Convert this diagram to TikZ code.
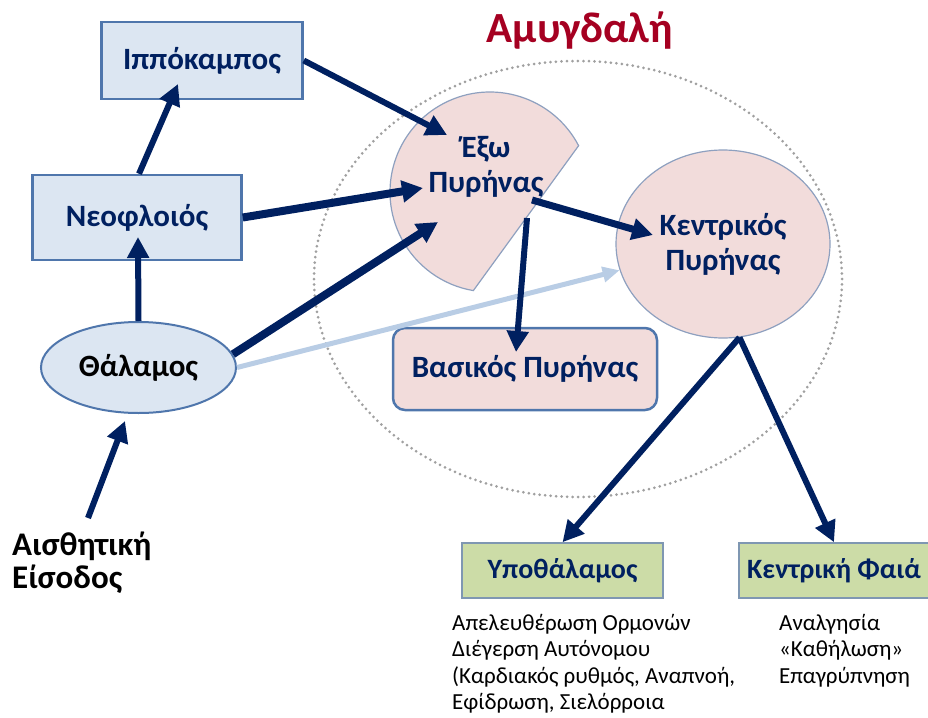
\documentclass[tikz,border=0pt]{standalone}
\usepackage{fontspec}
\setmainfont{Carlito}
\usetikzlibrary{arrows.meta,shapes.geometric}

\definecolor{navy}{RGB}{0,32,96}
\definecolor{boxedge}{RGB}{79,118,172}
\definecolor{bluefill}{RGB}{220,230,242}
\definecolor{pinkfill}{RGB}{242,220,219}
\definecolor{pinkedge}{RGB}{142,160,191}
\definecolor{greenfill}{RGB}{204,220,167}
\definecolor{greenedge}{RGB}{127,151,178}
\definecolor{lightarrow}{RGB}{185,205,229}
\definecolor{amygred}{RGB}{165,0,33}
\definecolor{dotgray}{RGB}{160,160,160}

\begin{document}
\begin{tikzpicture}[%
  x=1pt, y=-1pt,
  label/.style = {text=navy, font=\bfseries\fontsize{31}{35}\selectfont, align=center},
  box/.style = {label, draw=boxedge, line width=2.5pt, fill=bluefill},
  nucleus/.style = {label, draw=pinkedge, line width=1.2pt, fill=pinkfill},
  target/.style = {label, font=\bfseries\fontsize{28}{33}\selectfont, draw=greenedge, line width=1.5pt, fill=greenfill},
  note/.style = {font=\fontsize{23}{26.5}\selectfont, align=left, anchor=north west, inner sep=0pt},
  line/.style = {navy, line width=6pt},
  >={Triangle[length=21pt,width=21pt]},
]
  \useasboundingbox (0,0) rectangle (928,717);

  \draw[dotgray, line width=3pt, line cap=round, dash pattern=on 0pt off 5.5pt]
    (578,279) ellipse[x radius=264pt, y radius=218pt];
  \node[text=amygred, font=\bfseries\fontsize{43}{50}\selectfont] (amyg) at (580,31) {Αμυγδαλή};

  \node[box, minimum width=201, minimum height=77] (ipp) at (202,60.5) {Ιππόκαμπος};
  \node[box, minimum width=209, minimum height=85] (neo) at (137,217.5) {Νεοφλοιός};
  \node[box, ellipse, line width=2pt, text=black, minimum width=195, minimum height=91] (thal) at (138.5,367.5) {Θάλαμος};
  \node[font=\bfseries\fontsize{33}{33}\selectfont, align=left, anchor=north west, inner sep=0pt] (aisth) at (12,532) {Αισθητική\\Είσοδος};

  \coordinate (exoc) at (490,192);
  \fill[pinkfill, draw=pinkedge, line width=1.2pt]
    (exoc) ++(27.6:100pt) arc[start angle=27.6, end angle=260.4, radius=100pt] -- cycle;
  \node[label] (exo) at (486,167) {Έξω\\Πυρήνας};

  \node[nucleus, ellipse, minimum width=214, minimum height=188] (kentr) at (723,244) {Κεντρικός\\Πυρήνας};
  \node[nucleus, draw=boxedge, line width=2.5pt, rounded corners=12pt,
    minimum width=264, minimum height=82] (vas) at (525,369) {Βασικός Πυρήνας};

  \node[target, minimum width=201, minimum height=55] (ypo) at (562.5,570.5) {Υποθάλαμος};
  \node[target, minimum width=190, minimum height=55] (kfai) at (834,570.5) {Κεντρική Φαιά};
  \node[note] (ypotext) at (452,614) {Απελευθέρωση Ορμονών\\Διέγερση Αυτόνομου\\(Καρδιακός ρυθμός, Αναπνοή,\\Εφίδρωση, Σιελόρροια};
  \node[note] (kfaitext) at (779,614) {Αναλγησία\\«Καθήλωση»\\Επαγρύπνηση};

  \coordinate (ippin) at (178,84);
  \coordinate (neoin) at (138,237);
  \coordinate (thalin) at (125,421);
  \coordinate (aisthout) at (88,518);
  \coordinate (exoinA) at (447,135);
  \coordinate (exoinB) at (423,188);
  \coordinate (exoinC) at (438,222);
  \coordinate (exooutA) at (532,200);
  \coordinate (exooutB) at (527,218);
  \coordinate (kentrin) at (653,235);
  \coordinate (vasin) at (516,352);

  \draw[line, ->] (thal.north) -- (neoin);
  \draw[line, ->] (neo.north) ++(2,0) -- (ippin);
  \draw[line, ->] (aisthout) -- (thalin);
  \draw[line, ->] (ipp.east) -- (exoinA);
  \draw[line, line width=8pt, ->] (neo.east) -- (exoinB);
  \draw[lightarrow, line width=5pt, -{Triangle[length=17pt,width=15pt]}] (thal.east) -- (kentr);
  \draw[line, line width=8pt, ->] (thal.8) -- (exoinC);
  \draw[line, line width=7pt, ->] (exooutA) -- (kentrin);
  \draw[line, ->] (exooutB) -- (vasin);
  \draw[line, ->] (kentr.-80) -- (ypo.north);
  \draw[line, ->] (kentr.-80) -- (kfai.north);

\end{tikzpicture}
\end{document}
